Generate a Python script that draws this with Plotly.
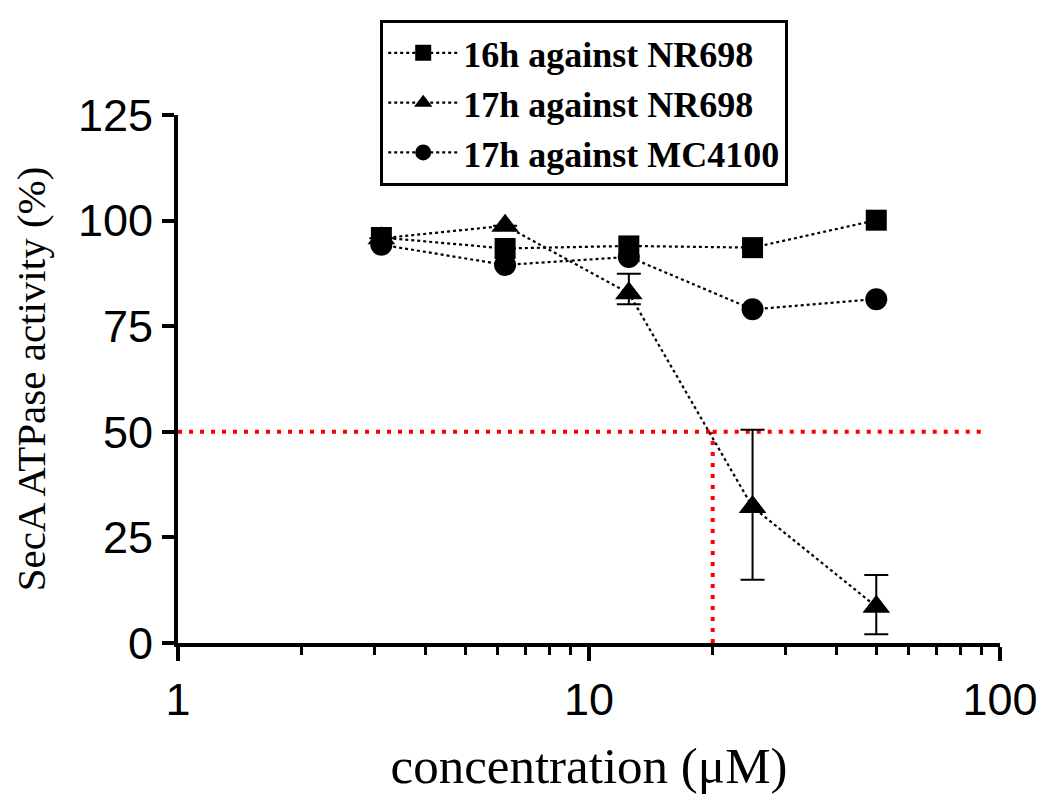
import plotly.graph_objects as go

# concentrations (uM) and activity (%)
conc = [3.125, 6.25, 12.5, 25, 50]
sq_16h_nr698 = [96.0, 93.4, 94.0, 93.6, 100.1]
tri_17h_nr698 = [95.8, 98.8, 82.8, 32.2, 8.6]
tri_err_plus = [0, 0, 4.6, 18.3, 7.5]
tri_err_minus = [0, 0, 2.6, 17.2, 6.5]
circ_17h_mc4100 = [94.3, 89.5, 91.4, 79.0, 81.4]

ic50_x = 20
ic50_y = 50

dots = dict(color="black", width=2.2, dash="3px,3px")
red = dict(color="red", width=4, dash="4px,7px")
serif = "Liberation Serif, Times New Roman, serif"

fig = go.Figure()
fig.add_trace(go.Scatter(x=[1, ic50_x], y=[ic50_y, ic50_y], mode="lines", showlegend=False,
                         line=red, hoverinfo="skip"))
fig.add_trace(go.Scatter(x=[ic50_x, ic50_x], y=[0, ic50_y], mode="lines", showlegend=False,
                         line=red, hoverinfo="skip"))
fig.add_trace(go.Scatter(x=[ic50_x, 92], y=[ic50_y, ic50_y], mode="lines", showlegend=False,
                         line=red, hoverinfo="skip"))

fig.add_trace(go.Scatter(x=conc, y=sq_16h_nr698, name="16h against NR698", mode="lines+markers",
                         line=dots, marker=dict(symbol="square", size=21, color="black")))
fig.add_trace(go.Scatter(x=conc, y=tri_17h_nr698, name="17h against NR698", mode="lines+markers",
                         line=dots, marker=dict(symbol="triangle-up", size=24, color="black"),
                         error_y=dict(type="data", array=tri_err_plus, arrayminus=tri_err_minus,
                                      color="black", thickness=2, width=12)))
fig.add_trace(go.Scatter(x=conc, y=circ_17h_mc4100, name="17h against MC4100", mode="lines+markers",
                         line=dots, marker=dict(symbol="circle", size=22, color="black")))

fig.update_layout(
    width=1050, height=803,
    margin=dict(l=170, r=58, t=104, b=168),
    paper_bgcolor="white", plot_bgcolor="white",
    font=dict(family="Liberation Sans, Arial, sans-serif", color="black"),
    legend=dict(x=0.246, y=1.18, xanchor="left", yanchor="top",
                bordercolor="black", borderwidth=3, bgcolor="white",
                font=dict(family=serif, size=36, color="black", weight="bold"),
                tracegroupgap=0, itemwidth=70),
    xaxis=dict(type="log", range=[0, 2], tickvals=[1, 10, 100], ticktext=["1", "10", "100"],
               ticks="outside", ticklen=14, tickwidth=4, tickcolor="black",
               showline=True, linewidth=4, linecolor="black", showgrid=False, zeroline=False,
               tickfont=dict(size=45),
               minor=dict(ticks="outside", ticklen=8, tickwidth=3, tickcolor="black",
                          dtick="D1", showgrid=False),
               title=dict(text="concentration (μM)", font=dict(family=serif, size=51), standoff=24)),
    yaxis=dict(range=[0, 125], tickvals=[0, 25, 50, 75, 100, 125],
               ticks="outside", ticklen=12, tickwidth=4, tickcolor="black",
               showline=True, linewidth=4, linecolor="black", showgrid=False, zeroline=False,
               tickfont=dict(size=45),
               title=dict(text="SecA ATPase activity (%)", font=dict(family=serif, size=41), standoff=22)),
)

fig.write_html("out.html")
